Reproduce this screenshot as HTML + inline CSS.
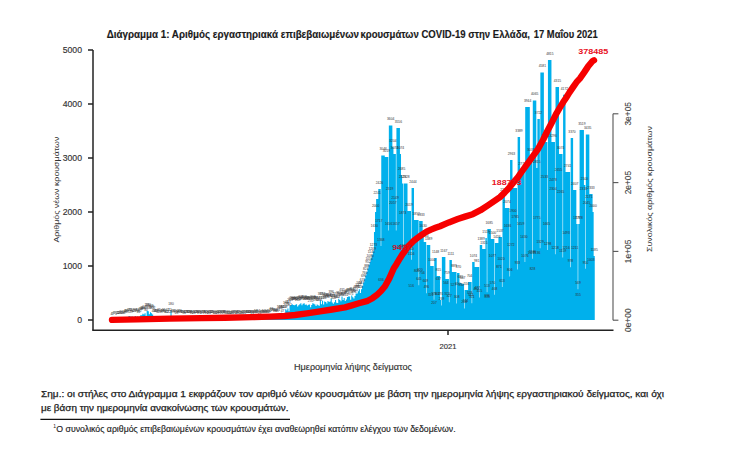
<!DOCTYPE html><html><head><meta charset="utf-8"><style>html,body{margin:0;padding:0;background:#fff;overflow:hidden;}svg{display:block;}</style></head><body>
<svg width="744" height="451" viewBox="0 0 744 451" font-family="Liberation Sans, sans-serif">
<rect width="744" height="451" fill="#fff"/>
<g font-size="10.4" font-weight="bold" fill="#1a1a1a" stroke="#1a1a1a" stroke-width="0.15">
<text x="106.7" y="37.5" textLength="252.2" lengthAdjust="spacingAndGlyphs">Διάγραμμα 1: Αριθμός εργαστηριακά επιβεβαιωμένων</text>
<text x="360.4" y="37.5" textLength="169.6" lengthAdjust="spacingAndGlyphs">κρουσμάτων COVID-19 στην Ελλάδα,</text>
<text x="533.8" y="37.5" textLength="63.9" lengthAdjust="spacingAndGlyphs">17 Μαΐου 2021</text>
</g>
<path d="M110.96 320.0L110.96 319.79L112.04 319.79L112.04 319.71L113.12 319.71L113.12 319.57L114.21 319.57L114.21 319.60L115.29 319.60L115.29 319.71L116.37 319.71L116.37 319.43L117.45 319.43L117.45 319.39L118.53 319.39L118.53 319.02L119.62 319.02L119.62 318.72L120.70 318.72L120.70 318.35L121.78 318.35L121.78 318.77L122.86 318.77L122.86 319.04L123.95 319.04L123.95 318.47L125.03 318.47L125.03 317.36L126.11 317.36L126.11 317.29L127.19 317.29L127.19 318.09L128.28 318.09L128.28 316.34L129.36 316.34L129.36 316.12L130.44 316.12L130.44 317.88L131.52 317.88L131.52 316.37L132.60 316.37L132.60 317.18L133.69 317.18L133.69 317.37L134.77 317.37L134.77 316.08L135.85 316.08L135.85 317.05L136.93 317.05L136.93 316.61L138.02 316.61L138.02 317.81L139.10 317.81L139.10 316.74L140.18 316.74L140.18 315.35L141.26 315.35L141.26 315.21L142.35 315.21L142.35 313.75L143.43 313.75L143.43 314.54L144.51 314.54L144.51 313.17L145.59 313.17L145.59 315.68L146.67 315.68L146.67 311.11L147.76 311.11L147.76 311.36L148.84 311.36L148.84 314.23L149.92 314.23L149.92 312.29L151.00 312.29L151.00 313.17L152.09 313.17L152.09 314.47L153.17 314.47L153.17 317.36L154.25 317.36L154.25 317.12L155.33 317.12L155.33 317.33L156.42 317.33L156.42 317.26L157.50 317.26L157.50 317.72L158.58 317.72L158.58 316.49L159.66 316.49L159.66 317.21L160.74 317.21L160.74 317.89L161.83 317.89L161.83 317.33L162.91 317.33L162.91 316.42L163.99 316.42L163.99 316.67L165.07 316.67L165.07 318.11L166.16 318.11L166.16 317.71L167.24 317.71L167.24 316.47L168.32 316.47L168.32 318.29L169.40 318.29L169.40 316.17L170.49 316.17L170.49 310.28L171.57 310.28L171.57 317.99L172.65 317.99L172.65 317.24L173.73 317.24L173.73 317.16L174.81 317.16L174.81 318.02L175.90 318.02L175.90 319.03L176.98 319.03L176.98 318.08L178.06 318.08L178.06 317.31L179.14 317.31L179.14 317.60L180.23 317.60L180.23 318.42L181.31 318.42L181.31 318.28L182.39 318.28L182.39 318.48L183.47 318.48L183.47 319.13L184.56 319.13L184.56 317.71L185.64 317.71L185.64 318.45L186.72 318.45L186.72 318.04L187.80 318.04L187.80 318.20L188.88 318.20L188.88 318.50L189.97 318.50L189.97 317.94L191.05 317.94L191.05 319.17L192.13 319.17L192.13 318.09L193.21 318.09L193.21 318.67L194.30 318.67L194.30 318.38L195.38 318.38L195.38 318.61L196.46 318.61L196.46 318.58L197.54 318.58L197.54 317.92L198.63 317.92L198.63 318.85L199.71 318.85L199.71 318.58L200.79 318.58L200.79 318.02L201.87 318.02L201.87 318.67L202.95 318.67L202.95 318.50L204.04 318.50L204.04 318.06L205.12 318.06L205.12 318.27L206.20 318.27L206.20 319.27L207.28 319.27L207.28 317.95L208.37 317.95L208.37 318.69L209.45 318.69L209.45 318.65L210.53 318.65L210.53 318.17L211.61 318.17L211.61 318.59L212.70 318.59L212.70 318.62L213.78 318.62L213.78 319.30L214.86 319.30L214.86 318.82L215.94 318.82L215.94 318.36L217.02 318.36L217.02 318.68L218.11 318.68L218.11 318.35L219.19 318.35L219.19 318.57L220.27 318.57L220.27 318.50L221.35 318.50L221.35 318.82L222.44 318.82L222.44 318.48L223.52 318.48L223.52 318.40L224.60 318.40L224.60 318.13L225.68 318.13L225.68 318.76L226.76 318.76L226.76 318.79L227.85 318.79L227.85 318.11L228.93 318.11L228.93 318.92L230.01 318.92L230.01 318.72L231.09 318.72L231.09 318.75L232.18 318.75L232.18 318.23L233.26 318.23L233.26 318.02L234.34 318.02L234.34 318.70L235.42 318.70L235.42 317.96L236.51 317.96L236.51 318.80L237.59 318.80L237.59 318.25L238.67 318.25L238.67 318.42L239.75 318.42L239.75 318.72L240.83 318.72L240.83 318.77L241.92 318.77L241.92 317.80L243.00 317.80L243.00 318.53L244.08 318.53L244.08 318.82L245.16 318.82L245.16 318.48L246.25 318.48L246.25 317.86L247.33 317.86L247.33 318.08L248.41 318.08L248.41 318.39L249.49 318.39L249.49 318.51L250.58 318.51L250.58 317.88L251.66 317.88L251.66 319.16L252.74 319.16L252.74 318.37L253.82 318.37L253.82 317.93L254.90 317.93L254.90 317.51L255.99 317.51L255.99 317.75L257.07 317.75L257.07 318.12L258.15 318.12L258.15 317.23L259.23 317.23L259.23 318.88L260.32 318.88L260.32 318.35L261.40 318.35L261.40 317.95L262.48 317.95L262.48 317.65L263.56 317.65L263.56 318.17L264.65 318.17L264.65 317.96L265.73 317.96L265.73 317.61L266.81 317.61L266.81 318.34L267.89 318.34L267.89 317.90L268.97 317.90L268.97 317.31L270.06 317.31L270.06 316.10L271.14 316.10L271.14 315.63L272.22 315.63L272.22 316.03L273.30 316.03L273.30 315.70L274.39 315.70L274.39 317.42L275.47 317.42L275.47 316.61L276.55 316.61L276.55 316.69L277.63 316.69L277.63 316.55L278.72 316.55L278.72 313.61L279.80 313.61L279.80 313.95L280.88 313.95L280.88 312.76L281.96 312.76L281.96 317.46L283.04 317.46L283.04 313.28L284.13 313.28L284.13 313.59L285.21 313.59L285.21 309.31L286.29 309.31L286.29 310.54L287.37 310.54L287.37 308.50L288.46 308.50L288.46 311.27L289.54 311.27L289.54 305.81L290.62 305.81L290.62 305.00L291.70 305.00L291.70 304.32L292.79 304.32L292.79 305.00L293.87 305.00L293.87 305.14L294.95 305.14L294.95 304.77L296.03 304.77L296.03 304.26L297.11 304.26L297.11 306.62L298.20 306.62L298.20 305.22L299.28 305.22L299.28 304.32L300.36 304.32L300.36 303.33L301.44 303.33L301.44 305.37L302.53 305.37L302.53 303.69L303.61 303.69L303.61 303.36L304.69 303.36L304.69 304.67L305.77 304.67L305.77 304.44L306.86 304.44L306.86 305.53L307.94 305.53L307.94 304.63L309.02 304.63L309.02 304.51L310.10 304.51L310.10 307.33L311.18 307.33L311.18 304.89L312.27 304.89L312.27 303.35L313.35 303.35L313.35 303.85L314.43 303.85L314.43 304.51L315.51 304.51L315.51 305.99L316.60 305.99L316.60 304.48L317.68 304.48L317.68 305.15L318.76 305.15L318.76 305.76L319.84 305.76L319.84 300.17L320.93 300.17L320.93 304.25L322.01 304.25L322.01 300.65L323.09 300.65L323.09 304.54L324.17 304.54L324.17 301.45L325.25 301.45L325.25 302.10L326.34 302.10L326.34 303.46L327.42 303.46L327.42 300.93L328.50 300.93L328.50 302.01L329.58 302.01L329.58 301.38L330.67 301.38L330.67 298.60L331.75 298.60L331.75 302.39L332.83 302.39L332.83 303.79L333.91 303.79L333.91 302.13L334.99 302.13L334.99 299.98L336.08 299.98L336.08 302.70L337.16 302.70L337.16 302.88L338.24 302.88L338.24 298.69L339.32 298.69L339.32 300.09L340.41 300.09L340.41 301.33L341.49 301.33L341.49 296.53L342.57 296.53L342.57 300.09L343.65 300.09L343.65 297.95L344.74 297.95L344.74 300.90L345.82 300.90L345.82 299.44L346.90 299.44L346.90 297.07L347.98 297.07L347.98 296.39L349.06 296.39L349.06 296.60L350.15 296.60L350.15 299.73L351.23 299.73L351.23 295.40L352.31 295.40L352.31 297.32L353.39 297.32L353.39 298.62L354.48 298.62L354.48 296.03L355.56 296.03L355.56 293.57L356.64 293.57L356.64 293.49L357.72 293.49L357.72 291.29L358.81 291.29L358.81 289.35L359.89 289.35L359.89 293.00L360.97 293.00L360.97 289.36L362.05 289.36L362.05 285.90L363.13 285.90L363.13 282.44L364.22 282.44L364.22 278.97L365.30 278.97L365.30 275.51L366.38 275.51L366.38 272.05L367.46 272.05L367.46 268.58L368.55 268.58L368.55 265.12L369.63 265.12L369.63 261.66L370.71 261.66L370.71 258.19L371.79 258.19L371.79 254.73L372.88 254.73L372.88 251.27L373.96 251.27L373.96 232.00L375.04 232.00L375.04 212.00L376.12 212.00L376.12 199.00L377.20 199.00L377.20 199.00L378.29 199.00L378.29 189.00L379.37 189.00L379.37 189.00L380.45 189.00L380.45 189.00L380.72 189.00L380.72 246.12L381.26 246.12L381.26 155.50L381.53 155.50L381.53 155.50L382.62 155.50L382.62 155.50L383.70 155.50L383.70 155.50L384.78 155.50L384.78 157.00L385.86 157.00L385.86 157.00L386.95 157.00L386.95 157.00L388.03 157.00L388.03 157.00L388.30 157.00L388.30 230.60L388.84 230.60L388.84 125.40L389.11 125.40L389.11 125.40L390.19 125.40L390.19 125.40L391.27 125.40L391.27 125.40L392.36 125.40L392.36 147.00L393.44 147.00L393.44 154.00L394.52 154.00L394.52 154.00L395.60 154.00L395.60 154.00L395.87 154.00L395.87 230.50L396.42 230.50L396.42 128.00L396.69 128.00L396.69 128.00L397.77 128.00L397.77 128.00L398.85 128.00L398.85 128.00L399.93 128.00L399.93 154.00L401.02 154.00L401.02 175.00L402.10 175.00L402.10 183.50L403.18 183.50L403.18 183.50L403.45 183.50L403.45 251.75L403.99 251.75L403.99 183.50L404.26 183.50L404.26 183.50L405.34 183.50L405.34 183.50L406.43 183.50L406.43 183.50L407.51 183.50L407.51 211.00L408.59 211.00L408.59 211.00L409.67 211.00L409.67 211.00L410.76 211.00L410.76 211.00L411.03 211.00L411.03 259.75L411.57 259.75L411.57 188.00L411.84 188.00L411.84 188.00L412.92 188.00L412.92 188.00L414.00 188.00L414.00 220.00L415.09 220.00L415.09 220.00L416.17 220.00L416.17 220.00L417.25 220.00L417.25 220.00L418.33 220.00L418.33 220.00L418.60 220.00L418.60 285.18L419.14 285.18L419.14 221.00L419.41 221.00L419.41 221.00L420.50 221.00L420.50 221.00L421.58 221.00L421.58 221.00L422.66 221.00L422.66 232.00L423.74 232.00L423.74 242.00L424.83 242.00L424.83 242.00L425.91 242.00L425.91 242.00L426.18 242.00L426.18 293.23L426.72 293.23L426.72 245.00L426.99 245.00L426.99 245.00L428.07 245.00L428.07 245.00L429.16 245.00L429.16 245.00L430.24 245.00L430.24 266.00L431.32 266.00L431.32 266.00L432.40 266.00L432.40 266.00L433.48 266.00L433.48 266.00L433.75 266.00L433.75 299.70L434.30 299.70L434.30 258.00L434.57 258.00L434.57 258.00L435.65 258.00L435.65 258.00L436.73 258.00L436.73 276.00L437.81 276.00L437.81 276.00L438.90 276.00L438.90 276.00L439.98 276.00L439.98 300.00L441.06 300.00L441.06 300.00L441.33 300.00L441.33 305.48L441.87 305.48L441.87 257.00L442.14 257.00L442.14 257.00L443.22 257.00L443.22 257.00L444.31 257.00L444.31 257.00L445.39 257.00L445.39 279.00L446.47 279.00L446.47 279.00L447.55 279.00L447.55 279.00L448.64 279.00L448.64 279.00L448.91 279.00L448.91 302.32L449.45 302.32L449.45 260.00L449.72 260.00L449.72 260.00L450.80 260.00L450.80 260.00L451.88 260.00L451.88 272.00L452.97 272.00L452.97 272.00L454.05 272.00L454.05 272.00L455.13 272.00L455.13 272.00L456.21 272.00L456.21 272.00L456.48 272.00L456.48 303.38L457.02 303.38L457.02 273.00L457.29 273.00L457.29 273.00L458.38 273.00L458.38 273.00L459.46 273.00L459.46 283.00L460.54 283.00L460.54 283.00L461.62 283.00L461.62 284.00L462.71 284.00L462.71 284.00L463.79 284.00L463.79 284.00L464.06 284.00L464.06 308.45L464.60 308.45L464.60 290.00L464.87 290.00L464.87 290.00L465.95 290.00L465.95 290.00L467.04 290.00L467.04 290.00L468.12 290.00L468.12 282.00L469.20 282.00L469.20 282.00L470.28 282.00L470.28 282.00L471.36 282.00L471.36 282.00L471.64 282.00L471.64 303.20L472.18 303.20L472.18 262.00L472.45 262.00L472.45 262.00L473.53 262.00L473.53 262.00L474.61 262.00L474.61 267.00L475.69 267.00L475.69 267.00L476.78 267.00L476.78 267.00L477.86 267.00L477.86 267.00L478.94 267.00L478.94 267.00L479.21 267.00L479.21 297.60L479.75 297.60L479.75 245.00L480.02 245.00L480.02 245.00L481.11 245.00L481.11 245.00L482.19 245.00L482.19 249.00L483.27 249.00L483.27 249.00L484.35 249.00L484.35 249.00L485.43 249.00L485.43 238.00L486.52 238.00L486.52 238.00L486.79 238.00L486.79 292.32L487.33 292.32L487.33 229.00L487.60 229.00L487.60 229.00L488.68 229.00L488.68 229.00L489.76 229.00L489.76 229.00L490.85 229.00L490.85 239.00L491.93 239.00L491.93 239.00L493.01 239.00L493.01 239.00L494.09 239.00L494.09 239.00L494.36 239.00L494.36 294.72L494.90 294.72L494.90 243.00L495.18 243.00L495.18 243.00L496.26 243.00L496.26 243.00L497.34 243.00L497.34 243.00L498.42 243.00L498.42 237.00L499.50 237.00L499.50 237.00L500.59 237.00L500.59 237.00L501.67 237.00L501.67 237.00L501.94 237.00L501.94 286.88L502.48 286.88L502.48 196.00L502.75 196.00L502.75 196.00L503.83 196.00L503.83 196.00L504.92 196.00L504.92 208.00L506.00 208.00L506.00 208.00L507.08 208.00L507.08 208.00L508.16 208.00L508.16 208.00L509.25 208.00L509.25 208.00L509.52 208.00L509.52 276.48L510.06 276.48L510.06 160.00L510.33 160.00L510.33 160.00L511.41 160.00L511.41 160.00L512.49 160.00L512.49 188.00L513.57 188.00L513.57 188.00L514.66 188.00L514.66 188.00L515.74 188.00L515.74 188.00L516.82 188.00L516.82 188.00L517.09 188.00L517.09 269.60L517.63 269.60L517.63 137.00L517.90 137.00L517.90 137.00L518.99 137.00L518.99 137.00L520.07 137.00L520.07 170.00L521.15 170.00L521.15 170.00L522.23 170.00L522.23 170.00L523.32 170.00L523.32 170.00L524.40 170.00L524.40 170.00L524.67 170.00L524.67 261.92L525.21 261.92L525.21 107.00L525.48 107.00L525.48 107.00L526.56 107.00L526.56 107.00L527.64 107.00L527.64 107.00L528.73 107.00L528.73 107.00L529.81 107.00L529.81 156.00L530.89 156.00L530.89 156.00L531.97 156.00L531.97 156.00L532.24 156.00L532.24 258.64L532.79 258.64L532.79 100.50L533.06 100.50L533.06 100.50L534.14 100.50L534.14 100.50L535.22 100.50L535.22 100.50L536.30 100.50L536.30 168.00L537.39 168.00L537.39 119.00L538.47 119.00L538.47 119.00L539.55 119.00L539.55 119.00L539.82 119.00L539.82 248.26L540.36 248.26L540.36 72.60L540.63 72.60L540.63 72.60L541.71 72.60L541.71 72.60L542.80 72.60L542.80 72.60L543.88 72.60L543.88 142.00L544.96 142.00L544.96 142.00L546.04 142.00L546.04 142.00L547.13 142.00L547.13 142.00L547.40 142.00L547.40 249.92L547.94 249.92L547.94 60.00L548.21 60.00L548.21 60.00L549.29 60.00L549.29 60.00L550.37 60.00L550.37 60.00L551.45 60.00L551.45 142.00L552.54 142.00L552.54 142.00L553.62 142.00L553.62 142.00L554.70 142.00L554.70 142.00L554.97 142.00L554.97 254.24L555.51 254.24L555.51 87.00L555.78 87.00L555.78 87.00L556.87 87.00L556.87 87.00L557.95 87.00L557.95 87.00L559.03 87.00L559.03 154.00L560.11 154.00L560.11 154.00L561.20 154.00L561.20 154.00L562.28 154.00L562.28 154.00L562.55 154.00L562.55 257.39L563.09 257.39L563.09 94.70L563.36 94.70L563.36 94.70L564.44 94.70L564.44 94.70L565.52 94.70L565.52 172.00L566.61 172.00L566.61 172.00L567.69 172.00L567.69 172.00L568.77 172.00L568.77 172.00L569.85 172.00L569.85 172.00L570.12 172.00L570.12 267.20L570.67 267.20L570.67 138.00L570.94 138.00L570.94 138.00L572.02 138.00L572.02 138.00L573.10 138.00L573.10 190.00L574.18 190.00L574.18 190.00L575.27 190.00L575.27 190.00L576.35 190.00L576.35 224.00L577.43 224.00L577.43 224.00L577.70 224.00L577.70 289.28L578.24 289.28L578.24 224.00L578.51 224.00L578.51 224.00L579.59 224.00L579.59 130.00L580.68 130.00L580.68 130.00L581.76 130.00L581.76 130.00L582.84 130.00L582.84 130.00L583.92 130.00L583.92 185.00L585.01 185.00L585.01 185.00L585.28 185.00L585.28 268.72L585.82 268.72L585.82 134.50L586.09 134.50L586.09 134.50L587.17 134.50L587.17 134.50L588.25 134.50L588.25 134.50L589.34 134.50L589.34 194.00L590.42 194.00L590.42 194.00L591.50 194.00L591.50 194.00L592.58 194.00L592.58 212.00L593.66 212.00L593.66 256.00L594.75 256.00L594.75 320.0Z" fill="#00b0ec"/>
<g font-size="3.3" fill="#333" text-anchor="middle"><text x="111.5" y="314.6">4</text><text x="112.6" y="314.5">5</text><text x="113.7" y="314.4">8</text><text x="114.7" y="314.4">7</text><text x="115.8" y="314.5">5</text><text x="116.9" y="314.2">11</text><text x="118.0" y="314.2">11</text><text x="119.1" y="313.8">18</text><text x="120.2" y="313.5">24</text><text x="121.2" y="313.1">31</text><text x="122.3" y="313.6">23</text><text x="123.4" y="313.8">18</text><text x="124.5" y="313.3">28</text><text x="125.6" y="312.2">49</text><text x="126.7" y="312.1">50</text><text x="127.7" y="312.9">35</text><text x="128.8" y="311.1">68</text><text x="129.9" y="310.9">72</text><text x="131.0" y="312.7">39</text><text x="132.1" y="311.2">67</text><text x="133.1" y="312.0">52</text><text x="134.2" y="312.2">49</text><text x="135.3" y="310.9">73</text><text x="136.4" y="311.8">55</text><text x="137.5" y="311.4">63</text><text x="138.6" y="312.6">41</text><text x="139.6" y="311.5">60</text><text x="140.7" y="310.2">86</text><text x="141.8" y="310.0">89</text><text x="142.9" y="308.6">116</text><text x="144.0" y="309.3">101</text><text x="145.1" y="308.0">126</text><text x="146.1" y="310.5">80</text><text x="147.2" y="305.9">165</text><text x="148.3" y="306.2">160</text><text x="149.4" y="309.0">107</text><text x="150.5" y="307.1">143</text><text x="151.5" y="308.0">126</text><text x="152.6" y="309.3">102</text><text x="153.7" y="312.2">49</text><text x="154.8" y="311.9">53</text><text x="155.9" y="312.1">49</text><text x="157.0" y="312.1">51</text><text x="158.0" y="312.5">42</text><text x="159.1" y="311.3">65</text><text x="160.2" y="312.0">52</text><text x="161.3" y="312.7">39</text><text x="162.4" y="312.1">49</text><text x="163.5" y="311.2">66</text><text x="164.5" y="311.5">62</text><text x="165.6" y="312.9">35</text><text x="166.7" y="312.5">42</text><text x="167.8" y="311.3">65</text><text x="168.9" y="313.1">32</text><text x="169.9" y="311.0">71</text><text x="171.0" y="305.1">180</text><text x="172.1" y="312.8">37</text><text x="173.2" y="312.0">51</text><text x="174.3" y="312.0">53</text><text x="175.4" y="312.8">37</text><text x="176.4" y="313.8">18</text><text x="177.5" y="312.9">36</text><text x="178.6" y="312.1">50</text><text x="179.7" y="312.4">44</text><text x="180.8" y="313.2">29</text><text x="181.8" y="313.1">32</text><text x="182.9" y="313.3">28</text><text x="184.0" y="313.9">16</text><text x="185.1" y="312.5">42</text><text x="186.2" y="313.3">29</text><text x="187.3" y="312.8">36</text><text x="188.3" y="313.0">33</text><text x="189.4" y="313.3">28</text><text x="190.5" y="312.7">38</text><text x="191.6" y="314.0">15</text><text x="192.7" y="312.9">35</text><text x="193.8" y="313.5">25</text><text x="194.8" y="313.2">30</text><text x="195.9" y="313.4">26</text><text x="197.0" y="313.4">26</text><text x="198.1" y="312.7">38</text><text x="199.2" y="313.7">21</text><text x="200.2" y="313.4">26</text><text x="201.3" y="312.8">37</text><text x="202.4" y="313.5">25</text><text x="203.5" y="313.3">28</text><text x="204.6" y="312.9">36</text><text x="205.7" y="313.1">32</text><text x="206.7" y="314.1">13</text><text x="207.8" y="312.7">38</text><text x="208.9" y="313.5">24</text><text x="210.0" y="313.4">25</text><text x="211.1" y="313.0">34</text><text x="212.2" y="313.4">26</text><text x="213.2" y="313.4">26</text><text x="214.3" y="314.1">13</text><text x="215.4" y="313.6">22</text><text x="216.5" y="313.2">30</text><text x="217.6" y="313.5">24</text><text x="218.6" y="313.2">30</text><text x="219.7" y="313.4">26</text><text x="220.8" y="313.3">28</text><text x="221.9" y="313.6">22</text><text x="223.0" y="313.3">28</text><text x="224.1" y="313.2">30</text><text x="225.1" y="312.9">35</text><text x="226.2" y="313.6">23</text><text x="227.3" y="313.6">22</text><text x="228.4" y="312.9">35</text><text x="229.5" y="313.7">20</text><text x="230.6" y="313.5">24</text><text x="231.6" y="313.6">23</text><text x="232.7" y="313.0">33</text><text x="233.8" y="312.8">37</text><text x="234.9" y="313.5">24</text><text x="236.0" y="312.8">38</text><text x="237.0" y="313.6">22</text><text x="238.1" y="313.1">32</text><text x="239.2" y="313.2">29</text><text x="240.3" y="313.5">24</text><text x="241.4" y="313.6">23</text><text x="242.5" y="312.6">41</text><text x="243.5" y="313.3">27</text><text x="244.6" y="313.6">22</text><text x="245.7" y="313.3">28</text><text x="246.8" y="312.7">40</text><text x="247.9" y="312.9">36</text><text x="249.0" y="313.2">30</text><text x="250.0" y="313.3">28</text><text x="251.1" y="312.7">39</text><text x="252.2" y="314.0">16</text><text x="253.3" y="313.2">30</text><text x="254.4" y="312.7">38</text><text x="255.4" y="312.3">46</text><text x="256.5" y="312.5">42</text><text x="257.6" y="312.9">35</text><text x="258.7" y="312.0">51</text><text x="259.8" y="313.7">21</text><text x="260.9" y="313.2">31</text><text x="261.9" y="312.8">38</text><text x="263.0" y="312.4">44</text><text x="264.1" y="313.0">34</text><text x="265.2" y="312.8">38</text><text x="266.3" y="312.4">44</text><text x="267.4" y="313.1">31</text><text x="268.4" y="312.7">39</text><text x="269.5" y="312.1">50</text><text x="270.6" y="310.9">72</text><text x="271.7" y="310.4">81</text><text x="272.8" y="310.8">73</text><text x="273.8" y="310.5">80</text><text x="274.9" y="312.2">48</text><text x="276.0" y="311.4">63</text><text x="277.1" y="311.5">61</text><text x="278.2" y="311.3">64</text><text x="279.3" y="308.4">118</text><text x="280.3" y="308.7">112</text><text x="281.4" y="307.6">134</text><text x="282.5" y="312.3">47</text><text x="283.6" y="308.1">124</text><text x="284.7" y="308.4">119</text><text x="285.8" y="304.1">198</text><text x="286.8" y="305.3">175</text><text x="287.9" y="303.3">213</text><text x="289.0" y="306.1">162</text><text x="290.1" y="300.6">263</text><text x="291.2" y="299.8">278</text><text x="292.2" y="299.1">290</text><text x="293.3" y="299.8">278</text><text x="294.4" y="299.9">275</text><text x="295.5" y="299.6">282</text><text x="296.6" y="299.1">292</text><text x="297.7" y="301.4">248</text><text x="298.7" y="300.0">274</text><text x="299.8" y="299.1">290</text><text x="300.9" y="298.1">309</text><text x="302.0" y="300.2">271</text><text x="303.1" y="298.5">302</text><text x="304.1" y="298.2">308</text><text x="305.2" y="299.5">284</text><text x="306.3" y="299.2">288</text><text x="307.4" y="300.3">268</text><text x="308.5" y="299.4">285</text><text x="309.6" y="299.3">287</text><text x="310.6" y="302.1">235</text><text x="311.7" y="299.7">280</text><text x="312.8" y="298.2">308</text><text x="313.9" y="298.6">299</text><text x="315.0" y="299.3">287</text><text x="316.1" y="300.8">260</text><text x="317.1" y="299.3">287</text><text x="318.2" y="299.9">275</text><text x="319.3" y="300.6">264</text><text x="320.4" y="295.0">367</text><text x="321.5" y="299.0">292</text><text x="322.5" y="295.4">358</text><text x="323.6" y="299.3">286</text><text x="324.7" y="296.3">343</text><text x="325.8" y="296.9">331</text><text x="326.9" y="298.3">306</text><text x="328.0" y="295.7">353</text><text x="329.0" y="296.8">333</text><text x="330.1" y="296.2">345</text><text x="331.2" y="293.4">396</text><text x="332.3" y="297.2">326</text><text x="333.4" y="298.6">300</text><text x="334.5" y="296.9">331</text><text x="335.5" y="294.8">371</text><text x="336.6" y="297.5">320</text><text x="337.7" y="297.7">317</text><text x="338.8" y="293.5">395</text><text x="339.9" y="294.9">369</text><text x="340.9" y="296.1">346</text><text x="342.0" y="291.3">435</text><text x="343.1" y="294.9">369</text><text x="344.2" y="292.8">408</text><text x="345.3" y="295.7">354</text><text x="346.4" y="294.2">381</text><text x="347.4" y="291.9">425</text><text x="348.5" y="291.2">437</text><text x="349.6" y="291.4">433</text><text x="350.7" y="294.5">375</text><text x="351.8" y="290.2">456</text><text x="352.9" y="292.1">420</text><text x="353.9" y="293.4">396</text><text x="355.0" y="290.8">444</text><text x="356.1" y="288.4">489</text><text x="357.2" y="288.3">491</text><text x="358.3" y="286.1">532</text><text x="359.3" y="284.2">568</text><text x="360.4" y="287.8">500</text><text x="361.5" y="284.2">567</text><text x="362.6" y="280.7">631</text><text x="363.7" y="277.2">696</text><text x="364.8" y="273.8">760</text><text x="365.8" y="270.3">824</text><text x="366.9" y="266.8">888</text><text x="368.0" y="263.4">952</text><text x="369.1" y="259.9">1016</text><text x="370.2" y="256.5">1080</text><text x="371.3" y="253.0">1145</text><text x="372.3" y="249.5">1209</text><text x="373.4" y="246.1">1273</text><text x="374.5" y="226.8">1630</text><text x="375.6" y="206.8">2000</text><text x="377.2" y="193.8">2241</text><text x="379.4" y="183.8">2426</text><text x="381.0" y="240.9">1368</text><text x="383.2" y="150.3">3046</text><text x="386.4" y="151.8">3019</text><text x="388.6" y="225.4">1656</text><text x="390.7" y="120.2">3604</text><text x="392.9" y="141.8">3204</text><text x="394.5" y="148.8">3074</text><text x="396.1" y="225.3">1657</text><text x="398.3" y="122.8">3556</text><text x="400.5" y="148.8">3074</text><text x="401.6" y="169.8">2685</text><text x="402.6" y="178.3">2528</text><text x="403.7" y="246.6">1264</text><text x="405.9" y="178.3">2528</text><text x="409.1" y="205.8">2019</text><text x="411.3" y="254.6">1116</text><text x="412.9" y="182.8">2444</text><text x="416.2" y="214.8">1852</text><text x="418.9" y="280.0">645</text><text x="421.0" y="215.8">1833</text><text x="423.2" y="226.8">1630</text><text x="424.8" y="236.8">1444</text><text x="426.4" y="288.0">496</text><text x="428.6" y="239.8">1389</text><text x="431.9" y="260.8">1000</text><text x="434.0" y="294.5">376</text><text x="435.6" y="252.8">1148</text><text x="438.4" y="270.8">815</text><text x="440.5" y="294.8">370</text><text x="441.6" y="300.3">269</text><text x="443.8" y="251.8">1167</text><text x="447.0" y="273.8">759</text><text x="449.2" y="297.1">327</text><text x="450.8" y="254.8">1111</text><text x="454.0" y="266.8">889</text><text x="456.8" y="298.2">308</text><text x="458.4" y="267.8">870</text><text x="460.5" y="277.8">685</text><text x="462.7" y="278.8">667</text><text x="464.3" y="303.2">214</text><text x="466.5" y="284.8">556</text><text x="469.7" y="276.8">704</text><text x="471.9" y="298.0">311</text><text x="473.5" y="256.8">1074</text><text x="476.8" y="261.8">981</text><text x="479.5" y="292.4">415</text><text x="481.1" y="239.8">1389</text><text x="483.8" y="243.8">1315</text><text x="486.0" y="232.8">1519</text><text x="487.1" y="287.1">513</text><text x="489.2" y="223.8">1685</text><text x="492.5" y="233.8">1500</text><text x="494.6" y="289.5">468</text><text x="496.8" y="237.8">1426</text><text x="500.0" y="231.8">1537</text><text x="502.2" y="281.7">613</text><text x="503.8" y="190.8">2296</text><text x="507.1" y="202.8">2074</text><text x="509.8" y="271.3">806</text><text x="511.4" y="154.8">2963</text><text x="514.7" y="182.8">2444</text><text x="517.4" y="264.4">933</text><text x="519.0" y="131.8">3389</text><text x="522.2" y="164.8">2778</text><text x="524.9" y="256.7">1076</text><text x="527.6" y="101.8">3944</text><text x="530.9" y="150.8">3037</text><text x="532.5" y="253.4">1136</text><text x="534.7" y="95.3">4065</text><text x="536.8" y="162.8">2815</text><text x="538.5" y="113.8">3722</text><text x="540.1" y="243.1">1329</text><text x="542.3" y="67.4">4581</text><text x="545.5" y="136.8">3296</text><text x="547.7" y="244.7">1298</text><text x="549.8" y="54.8">4815</text><text x="553.1" y="136.8">3296</text><text x="555.2" y="249.0">1218</text><text x="557.4" y="81.8">4315</text><text x="560.7" y="148.8">3074</text><text x="562.8" y="252.2">1159</text><text x="564.4" y="89.5">4172</text><text x="567.7" y="166.8">2741</text><text x="570.4" y="262.0">978</text><text x="572.0" y="132.8">3370</text><text x="574.7" y="184.8">2407</text><text x="576.9" y="218.8">1778</text><text x="578.0" y="284.1">569</text><text x="579.1" y="218.8">1778</text><text x="581.8" y="124.8">3519</text><text x="584.5" y="179.8">2500</text><text x="585.5" y="263.5">950</text><text x="587.7" y="129.3">3435</text><text x="591.0" y="188.8">2333</text><text x="593.1" y="206.8">2000</text><text x="594.2" y="250.8">1185</text><text x="381.0" y="280.5">636</text><text x="378.8" y="222.1">1717</text><text x="389.7" y="189.6">2319</text><text x="388.6" y="282.3">601</text><text x="395.1" y="198.7">2149</text><text x="392.9" y="203.7">2057</text><text x="400.5" y="248.2">1233</text><text x="402.6" y="213.7">1873</text><text x="410.2" y="250.0">1200</text><text x="411.3" y="287.0">516</text><text x="420.0" y="270.5">820</text><text x="416.7" y="271.6">800</text><text x="425.4" y="281.9">609</text><text x="422.1" y="274.0">756</text><text x="434.0" y="303.6">207</text><text x="430.8" y="295.9">351</text><text x="437.3" y="295.3">362</text><text x="438.4" y="280.4">637</text><text x="445.9" y="284.4">564</text><text x="447.0" y="294.7">373</text><text x="453.5" y="286.4">527</text><text x="457.8" y="285.1">550</text><text x="461.1" y="286.2">530</text><text x="465.4" y="301.6">244</text><text x="470.8" y="296.4">341</text><text x="469.7" y="294.4">378</text><text x="476.2" y="290.0">460</text><text x="477.3" y="289.1">477</text><text x="487.1" y="297.8">315</text><text x="487.1" y="296.7">336</text><text x="492.5" y="284.0">570</text><text x="492.5" y="256.6">1077</text><text x="501.1" y="259.7">1020</text><text x="499.0" y="267.8">871</text><text x="510.9" y="246.1">1272</text><text x="507.6" y="226.5">1636</text><text x="513.0" y="212.2">1900</text><text x="515.2" y="218.4">1785</text><text x="520.6" y="225.2">1659</text><text x="523.9" y="237.6">1430</text><text x="532.5" y="270.1">828</text><text x="531.4" y="254.0">1127</text><text x="536.8" y="218.9">1775</text><text x="536.8" y="253.5">1136</text><text x="544.4" y="178.0">2533</text><text x="546.6" y="224.9">1665</text><text x="553.1" y="181.0">2478</text><text x="553.1" y="190.4">2304</text><text x="558.5" y="171.4">2655</text><text x="560.7" y="192.5">2265</text><text x="566.1" y="234.2">1493</text><text x="566.1" y="249.1">1216</text><text x="578.0" y="295.6">355</text><text x="574.7" y="249.4">1211</text><text x="586.6" y="204.4">2045</text><text x="583.4" y="189.6">2318</text><text x="591.0" y="260.6">1003</text><text x="588.8" y="197.6">2171</text></g>
<polyline points="112,319.9 137.3,319.4 169.5,318.6 201.8,318.1 225,317.7 252.3,317.1 270,316.6 284.5,316 295,315 307,313.3 320,311.4 332,309.5 345,307.4 352,305.4 358.9,303.3 367.7,300.8 372.5,298.2 376.6,295.2 381,291 385,286.2 389.2,278.6 393.8,268.2 396.3,264.4 400,258.2 402.5,254.3 405,251 408,246.5 410.3,244.2 413.5,241 417.3,238 422,234.6 426.6,231.6 431,229.6 435.5,227.8 440,226.2 448.9,222.4 457.7,219 465,216.6 472.8,214.2 480.5,210.2 488.3,205.1 496,199.9 500,197.1 504.6,192.6 509,188 513.5,182.4 518,177.1 521.5,172 529,161.6 537.8,149.4 543,140 547.4,131 552,122.2 556.5,113.3 560,107.4 563.1,102.3 566,98 569.5,92.4 573.6,86.4 576.5,82.2 579.8,78.6 584,72.6 588,66.6 592.4,61.2 594,60.3" fill="none" stroke="#f60000" stroke-width="6.4" stroke-linecap="round" stroke-linejoin="round"/>
<g font-size="7.6" font-weight="bold" fill="#e8101e">
<text x="392.2" y="250" textLength="19.6" lengthAdjust="spacingAndGlyphs" fill="#c8102e">9437</text>
<text x="491.8" y="185.2" textLength="29.5" lengthAdjust="spacingAndGlyphs">188773</text>
<text x="578.2" y="53.9" textLength="30" lengthAdjust="spacingAndGlyphs">378485</text>
</g>
<g stroke="#222" stroke-width="1.5" fill="none">
<path d="M93 50V330.5"/>
<path d="M88 320H93"/>
<path d="M88 266H93"/>
<path d="M88 212H93"/>
<path d="M88 158H93"/>
<path d="M88 104H93"/>
<path d="M88 50H93"/>
<path d="M92.3 330.2H613.5"/>
<path d="M448 330V335"/>
</g>
<g font-size="8.7" fill="#333" text-anchor="end" stroke="#333" stroke-width="0.15">
<text x="82" y="323.0">0</text>
<text x="82" y="269.0">1000</text>
<text x="82" y="215.0">2000</text>
<text x="82" y="161.0">3000</text>
<text x="82" y="107.0">4000</text>
<text x="82" y="53.0">5000</text>
</g>
<text x="448" y="348.7" font-size="7.6" fill="#333" stroke="#333" stroke-width="0.15" text-anchor="middle">2021</text>
<text transform="translate(59.3,189.6) rotate(-90)" font-size="8" fill="#333" text-anchor="middle" textLength="106" lengthAdjust="spacingAndGlyphs">Αριθμός νέων κρουσμάτων</text>
<g stroke="#555" stroke-width="1.1" fill="none">
<path d="M613 113.8V320.2"/>
<path d="M613 320.2H618.4"/>
<path d="M613 251.4H618.4"/>
<path d="M613 182.6H618.4"/>
<path d="M613 113.8H618.4"/>
</g>
<g font-size="8.4" fill="#444" stroke="#444" stroke-width="0.12" text-anchor="middle">
<text transform="translate(631.4,320.2) rotate(-90)">0e+00</text>
<text transform="translate(631.4,251.4) rotate(-90)">1e+05</text>
<text transform="translate(631.4,182.6) rotate(-90)">2e+05</text>
<text transform="translate(631.4,113.8) rotate(-90)">3e+05</text>
</g>
<text transform="translate(652.2,189) rotate(-90)" font-size="7.5" fill="#333" text-anchor="middle" textLength="126" lengthAdjust="spacingAndGlyphs">Συνολικός αριθμός κρουσμάτων</text>
<text x="294" y="369.5" font-size="8.6" fill="#333" stroke="#333" stroke-width="0.15" textLength="118" lengthAdjust="spacingAndGlyphs">Ημερομηνία λήψης δείγματος</text>
<text x="41" y="397.1" font-size="8.7" fill="#222" stroke="#222" stroke-width="0.25" textLength="623" lengthAdjust="spacingAndGlyphs">Σημ.:  οι στήλες στο Διάγραμμα 1 εκφράζουν τον αριθμό νέων κρουσμάτων με βάση την ημερομηνία λήψης εργαστηριακού δείγματος, και όχι</text>
<text x="41" y="410.5" font-size="8.7" fill="#222" stroke="#222" stroke-width="0.25" textLength="247.5" lengthAdjust="spacingAndGlyphs">με βάση την ημερομηνία ανακοίνωσης των κρουσμάτων.</text>
<path d="M40.4 419.3H290" stroke="#111" stroke-width="1.3"/>
<text x="53.2" y="428.3" font-size="5" fill="#222">1</text>
<text x="56.3" y="431.8" font-size="8.5" fill="#222" stroke="#222" stroke-width="0.15" textLength="399.3" lengthAdjust="spacingAndGlyphs">Ο συνολικός αριθμός επιβεβαιωμένων κρουσμάτων έχει αναθεωρηθεί κατόπιν ελέγχου των δεδομένων.</text>
</svg></body></html>
